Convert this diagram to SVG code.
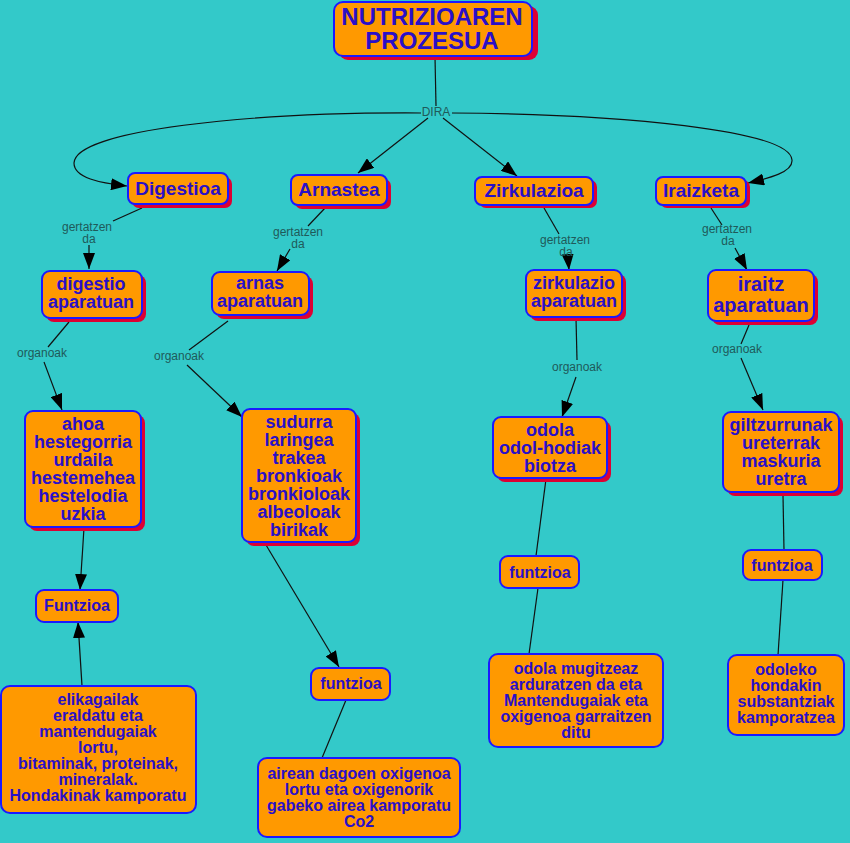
<svg xmlns="http://www.w3.org/2000/svg" width="850" height="843" viewBox="0 0 850 843">
<defs>
<marker id="ah" markerUnits="userSpaceOnUse" markerWidth="16" markerHeight="12" viewBox="0 0 16 12" refX="16" refY="6" orient="auto">
<path d="M0,0 L16,6 L0,12 Z" fill="#000"/>
</marker>
</defs>
<style>
.bg{fill:#33c9c9}
.sh{fill:#dd0033}
.bx{fill:#ff9900;stroke:#1a1aff;stroke-width:2}
.t{font-family:"Liberation Sans",Arial,sans-serif;font-weight:bold;fill:#2a0fc8;text-anchor:middle}
.lb{font-family:"Liberation Sans",Arial,sans-serif;font-size:12px;fill:#1f5a5a;text-anchor:middle}
.ln{fill:none;stroke:#111;stroke-width:1.2}
.ar{marker-end:url(#ah)}
</style>
<rect class="bg" x="0" y="0" width="850" height="843"/>

<g id="connectors">
<line class="ln" x1="435" y1="57" x2="436" y2="106"/>
<path class="ln ar" d="M421,113 C250,112 75,130 74,163 C74,178 100,183 127,186"/>
<path class="ln ar" d="M452,113 C620,114 790,130 792,160 C793,172 770,178 748,183"/>
<line class="ln ar" x1="428" y1="118" x2="358" y2="173"/>
<line class="ln ar" x1="443" y1="118" x2="517" y2="176"/>

<line class="ln" x1="142" y1="208" x2="113" y2="221"/>
<line class="ln ar" x1="89" y1="245" x2="89" y2="269"/>
<line class="ln" x1="326" y1="207" x2="308" y2="226"/>
<line class="ln ar" x1="290" y1="249" x2="277" y2="271"/>
<line class="ln" x1="544" y1="208" x2="559" y2="234"/>
<line class="ln ar" x1="568" y1="258" x2="569" y2="270"/>
<line class="ln" x1="711" y1="208" x2="722" y2="225"/>
<line class="ln ar" x1="735" y1="248" x2="747" y2="270"/>

<line class="ln" x1="69" y1="322" x2="48" y2="347"/>
<line class="ln ar" x1="44" y1="362" x2="62" y2="410"/>
<line class="ln" x1="228" y1="321" x2="189" y2="350"/>
<line class="ln ar" x1="187" y1="365" x2="242" y2="417"/>
<line class="ln" x1="576" y1="318" x2="577" y2="360"/>
<line class="ln ar" x1="576" y1="377" x2="562" y2="417"/>
<line class="ln" x1="749" y1="325" x2="741" y2="344"/>
<line class="ln ar" x1="741" y1="358" x2="763" y2="410"/>

<line class="ln ar" x1="84" y1="528" x2="80" y2="590"/>
<line class="ln ar" x1="82" y1="686" x2="78" y2="622"/>
<line class="ln ar" x1="266" y1="545" x2="339" y2="667"/>
<line class="ln" x1="346" y1="700" x2="322" y2="758"/>
<line class="ln" x1="546" y1="479" x2="536" y2="556"/>
<line class="ln" x1="538" y1="588" x2="529" y2="654"/>
<line class="ln" x1="783" y1="495" x2="784" y2="550"/>
<line class="ln" x1="783" y1="580" x2="778" y2="655"/>

<text class="lb" x="436" y="116">DIRA</text>
<text class="lb"><tspan x="87" y="231">gertatzen</tspan><tspan x="89" y="243">da</tspan></text>
<text class="lb"><tspan x="298" y="236">gertatzen</tspan><tspan x="298" y="248">da</tspan></text>
<text class="lb"><tspan x="565" y="244">gertatzen</tspan><tspan x="566" y="256">da</tspan></text>
<text class="lb"><tspan x="727" y="233">gertatzen</tspan><tspan x="728" y="245">da</tspan></text>
<text class="lb" x="42" y="357">organoak</text>
<text class="lb" x="179" y="360">organoak</text>
<text class="lb" x="577" y="371">organoak</text>
<text class="lb" x="737" y="353">organoak</text>
</g>

<g id="n-title">
<rect class="sh" x="339" y="6" width="199" height="54" rx="9"/>
<rect class="bx" x="334" y="2" width="198" height="54" rx="9"/>
<text class="t" font-size="24"><tspan x="432" y="25">NUTRIZIOAREN</tspan><tspan x="432" y="49">PROZESUA</tspan></text>
</g>

<g id="n-digestioa">
<rect class="sh" x="132" y="177" width="100" height="31" rx="7"/>
<rect class="bx" x="128" y="173" width="100" height="31" rx="7"/>
<text class="t" font-size="19" x="178" y="195">Digestioa</text>
</g>
<g id="n-arnastea">
<rect class="sh" x="295" y="179" width="96" height="30" rx="7"/>
<rect class="bx" x="291" y="175" width="96" height="30" rx="7"/>
<text class="t" font-size="19" x="339" y="196">Arnastea</text>
</g>
<g id="n-zirkulazioa">
<rect class="sh" x="479" y="180" width="118" height="28" rx="7"/>
<rect class="bx" x="475" y="177" width="118" height="28" rx="7"/>
<text class="t" font-size="19" x="534" y="197">Zirkulazioa</text>
</g>
<g id="n-iraizketa">
<rect class="sh" x="660" y="180" width="90" height="28" rx="7"/>
<rect class="bx" x="656" y="177" width="90" height="28" rx="7"/>
<text class="t" font-size="19" x="701" y="197">Iraizketa</text>
</g>

<g id="n-digestio-aparatuan">
<rect class="sh" x="46" y="275" width="100" height="47" rx="8"/>
<rect class="bx" x="42" y="271" width="100" height="47" rx="8"/>
<text class="t" font-size="18"><tspan x="91" y="290">digestio</tspan><tspan x="91" y="308">aparatuan</tspan></text>
</g>
<g id="n-arnas-aparatuan">
<rect class="sh" x="216" y="276" width="97" height="43" rx="8"/>
<rect class="bx" x="212" y="272" width="97" height="43" rx="8"/>
<text class="t" font-size="18"><tspan x="260" y="289">arnas</tspan><tspan x="260" y="307">aparatuan</tspan></text>
</g>
<g id="n-zirkulazio-aparatuan">
<rect class="sh" x="530" y="274" width="96" height="47" rx="8"/>
<rect class="bx" x="526" y="270" width="96" height="47" rx="8"/>
<text class="t" font-size="18"><tspan x="574" y="289">zirkulazio</tspan><tspan x="574" y="307">aparatuan</tspan></text>
</g>
<g id="n-iraitz-aparatuan">
<rect class="sh" x="712" y="274" width="106" height="51" rx="8"/>
<rect class="bx" x="708" y="270" width="106" height="51" rx="8"/>
<text class="t" font-size="20"><tspan x="761" y="291">iraitz</tspan><tspan x="761" y="312">aparatuan</tspan></text>
</g>

<g id="n-ahoa">
<rect class="sh" x="29" y="415" width="116" height="116" rx="8"/>
<rect class="bx" x="25" y="411" width="116" height="116" rx="8"/>
<text class="t" font-size="18"><tspan x="83" y="430">ahoa</tspan><tspan x="83" y="448">hestegorria</tspan><tspan x="83" y="466">urdaila</tspan><tspan x="83" y="484">hestemehea</tspan><tspan x="83" y="502">hestelodia</tspan><tspan x="83" y="520">uzkia</tspan></text>
</g>
<g id="n-sudurra">
<rect class="sh" x="246" y="413" width="114" height="133" rx="8"/>
<rect class="bx" x="242" y="409" width="114" height="133" rx="8"/>
<text class="t" font-size="18"><tspan x="299" y="428">sudurra</tspan><tspan x="299" y="446">laringea</tspan><tspan x="299" y="464">trakea</tspan><tspan x="299" y="482">bronkioak</tspan><tspan x="299" y="500">bronkioloak</tspan><tspan x="299" y="518">albeoloak</tspan><tspan x="299" y="536">birikak</tspan></text>
</g>
<g id="n-odola">
<rect class="sh" x="497" y="421" width="114" height="61" rx="8"/>
<rect class="bx" x="493" y="417" width="114" height="61" rx="8"/>
<text class="t" font-size="18"><tspan x="550" y="436">odola</tspan><tspan x="550" y="454">odol-hodiak</tspan><tspan x="550" y="472">biotza</tspan></text>
</g>
<g id="n-giltzurrunak">
<rect class="sh" x="727" y="416" width="116" height="80" rx="8"/>
<rect class="bx" x="723" y="412" width="116" height="80" rx="8"/>
<text class="t" font-size="18"><tspan x="781" y="431">giltzurrunak</tspan><tspan x="781" y="449">ureterrak</tspan><tspan x="781" y="467">maskuria</tspan><tspan x="781" y="485">uretra</tspan></text>
</g>

<g id="n-funtzioa-1">
<rect class="bx" x="36" y="590" width="82" height="32" rx="8"/>
<text class="t" font-size="16" x="77" y="611">Funtzioa</text>
</g>
<g id="n-funtzioa-2">
<rect class="bx" x="311" y="668" width="79" height="32" rx="8"/>
<text class="t" font-size="16" x="351" y="689">funtzioa</text>
</g>
<g id="n-funtzioa-3">
<rect class="bx" x="500" y="556" width="79" height="32" rx="8"/>
<text class="t" font-size="16" x="540" y="578">funtzioa</text>
</g>
<g id="n-funtzioa-4">
<rect class="bx" x="743" y="550" width="79" height="30" rx="8"/>
<text class="t" font-size="16" x="782" y="571">funtzioa</text>
</g>

<g id="n-elikagailak">
<rect class="bx" x="1" y="686" width="195" height="127" rx="9"/>
<text class="t" font-size="16"><tspan x="98" y="705">elikagailak</tspan><tspan x="98" y="721">eraldatu eta</tspan><tspan x="98" y="737">mantendugaiak</tspan><tspan x="98" y="753">lortu,</tspan><tspan x="98" y="769">bitaminak, proteinak,</tspan><tspan x="98" y="785">mineralak.</tspan><tspan x="98" y="801">Hondakinak kamporatu</tspan></text>
</g>
<g id="n-airean">
<rect class="bx" x="258" y="758" width="202" height="79" rx="9"/>
<text class="t" font-size="16"><tspan x="359" y="779">airean dagoen oxigenoa</tspan><tspan x="359" y="795">lortu eta oxigenorik</tspan><tspan x="359" y="811">gabeko airea kamporatu</tspan><tspan x="359" y="827">Co2</tspan></text>
</g>
<g id="n-odola-mugitzeaz">
<rect class="bx" x="489" y="654" width="174" height="93" rx="9"/>
<text class="t" font-size="16"><tspan x="576" y="674">odola mugitzeaz</tspan><tspan x="576" y="690">arduratzen da eta</tspan><tspan x="576" y="706">Mantendugaiak eta</tspan><tspan x="576" y="722">oxigenoa garraitzen</tspan><tspan x="576" y="738">ditu</tspan></text>
</g>
<g id="n-odoleko">
<rect class="bx" x="728" y="655" width="116" height="80" rx="9"/>
<text class="t" font-size="16"><tspan x="786" y="675">odoleko</tspan><tspan x="786" y="691">hondakin</tspan><tspan x="786" y="707">substantziak</tspan><tspan x="786" y="723">kamporatzea</tspan></text>
</g>
</svg>
